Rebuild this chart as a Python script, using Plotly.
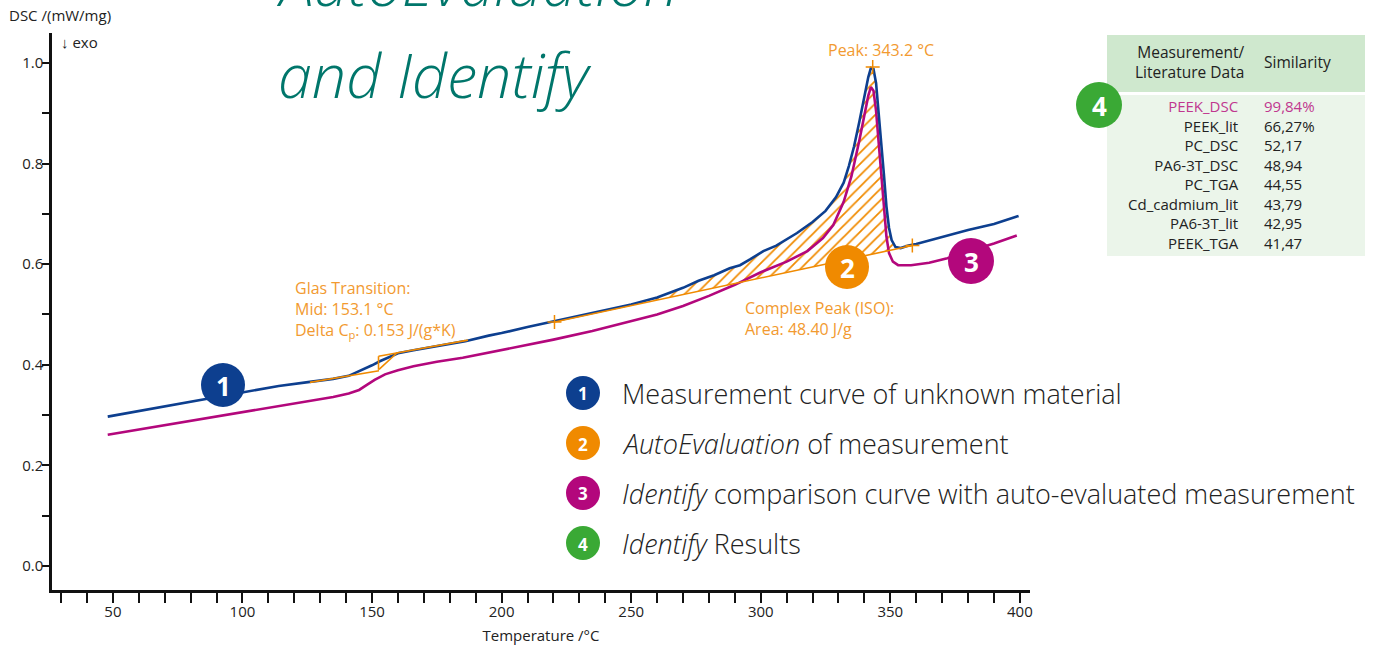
import numpy as np
import plotly.graph_objects as go

# ---------------- data ----------------
meas_T = [48, 60, 80, 100, 114, 126, 135, 141, 146, 150, 153, 157, 160, 166, 172, 180, 186, 195, 200,
          210, 220, 230, 240, 250, 260, 270, 276, 282, 288, 292, 296, 301, 306, 314, 320, 325, 329, 332,
          334, 336, 338, 340, 341.5, 342.5, 343.5, 344.5, 345.5, 346.5, 347.5, 348.5, 349.5, 350.5, 352,
          354, 357, 360, 370, 380, 390, 399.5]
meas_dsc = [0.297, 0.308, 0.326, 0.344, 0.358, 0.366, 0.372, 0.378, 0.389, 0.399, 0.407, 0.417, 0.423,
            0.429, 0.434, 0.441, 0.447, 0.458, 0.463, 0.475, 0.486, 0.497, 0.508, 0.520, 0.534, 0.553,
            0.567, 0.578, 0.592, 0.598, 0.610, 0.626, 0.637, 0.662, 0.684, 0.706, 0.733, 0.762, 0.795,
            0.834, 0.882, 0.935, 0.972, 0.990, 0.988, 0.960, 0.905, 0.850, 0.780, 0.715, 0.672, 0.648,
            0.634, 0.632, 0.637, 0.640, 0.654, 0.668, 0.680, 0.696]

ref_T = [48, 70, 90, 110, 125, 135, 141, 145, 148, 151, 155, 160, 166, 175, 185, 195, 210, 220, 235,
         250, 260, 270, 280, 290, 300, 310, 318, 324, 328, 332, 335, 338, 340, 341.5, 342.5, 343.5,
         344.5, 345.5, 346.5, 347.5, 348.5, 349.5, 351, 353, 358, 365, 372, 380, 390, 398.8]
ref_dsc = [0.261, 0.280, 0.297, 0.314, 0.327, 0.336, 0.343, 0.350, 0.360, 0.370, 0.381, 0.389, 0.397,
           0.406, 0.414, 0.424, 0.439, 0.450, 0.467, 0.486, 0.500, 0.517, 0.537, 0.559, 0.584, 0.605,
           0.626, 0.652, 0.678, 0.724, 0.775, 0.845, 0.900, 0.935, 0.952, 0.945, 0.905, 0.840, 0.770,
           0.705, 0.655, 0.622, 0.605, 0.598, 0.598, 0.603, 0.612, 0.625, 0.641, 0.657]

# glass transition construction (segments)
gt_T = [126, 152.7, None, 152.5, 152.5, None, 152.5, 187, None, 152.7, 159.7]
gt_dsc = [0.365, 0.388, None, 0.390, 0.417, None, 0.417, 0.449, None, 0.391, 0.424]

# complex peak baseline
peak_base_T = [220.4, 358.5]
peak_base_dsc = [0.485, 0.637]
peak_T = [343.2]
peak_dsc = [0.992]

glass_text = ["Glas Transition:", "Mid: 153.1 °C", "Delta C<sub>p</sub>: 0.153 J/(g*K)"]
complex_text = ["Complex Peak (ISO):", "Area: 48.40 J/g"]
peak_text = "Peak: 343.2 °C"

x_ticks = [50, 100, 150, 200, 250, 300, 350, 400]
y_ticks = [0.0, 0.2, 0.4, 0.6, 0.8, 1.0]

table_header = ["Measurement/<br>Literature Data", "Similarity"]
table_names = ["PEEK_DSC", "PEEK_lit", "PC_DSC", "PA6-3T_DSC", "PC_TGA", "Cd_cadmium_lit", "PA6-3T_lit", "PEEK_TGA"]
table_values = ["99,84%", "66,27%", "52,17", "48,94", "44,55", "43,79", "42,95", "41,47"]

legend_items = ["Measurement curve of unknown material",
                "<i>AutoEvaluation</i> of measurement",
                "<i>Identify</i> comparison curve with auto-evaluated measurement",
                "<i>Identify</i> Results"]

# ---------------- styles ----------------
BLUE = "#0d3f8f"
ORANGE = "#f08a00"
ORANGE_TXT = "#f29a30"
MAGENTA = "#b3077c"
GREEN = "#3aa935"
TEAL = "#00766b"
FONT = "Open Sans"
HILITE = "#c0378f"

L, R, T, B = 52, 1030, 33, 590
W, H = 1376, 645


def px(x):
    return (x - L) / (R - L)


def py(y):
    return (B - y) / (B - T)


fig = go.Figure()

# hatched area between baseline and measured curve
mT = np.array(meas_T, dtype=float)
mD = np.array(meas_dsc, dtype=float)
sel = (mT > peak_base_T[0]) & (mT < peak_base_T[1])
poly_T = [peak_base_T[0]] + list(mT[sel]) + [peak_base_T[1], peak_base_T[0]]
poly_D = [float(np.interp(peak_base_T[0], mT, mD))] + list(mD[sel]) + [peak_base_dsc[1], peak_base_dsc[0]]
fig.add_trace(go.Scatter(x=poly_T, y=poly_D, mode="none", fill="toself",
                         fillcolor="rgba(0,0,0,0)",
                         fillpattern=dict(shape="/", fgcolor=ORANGE, bgcolor="rgba(0,0,0,0)",
                                          size=8, solidity=0.22, fgopacity=1),
                         hoverinfo="skip"))

fig.add_trace(go.Scatter(x=ref_T, y=ref_dsc, mode="lines", line=dict(color=MAGENTA, width=2.6)))
fig.add_trace(go.Scatter(x=meas_T, y=meas_dsc, mode="lines", line=dict(color=BLUE, width=2.6)))
fig.add_trace(go.Scatter(x=gt_T, y=gt_dsc, mode="lines", line=dict(color=ORANGE, width=1.6),
                         connectgaps=False))
fig.add_trace(go.Scatter(x=peak_base_T, y=peak_base_dsc, mode="lines+markers",
                         line=dict(color=ORANGE, width=1.6),
                         marker=dict(symbol="cross-thin", size=10, line=dict(color=ORANGE, width=1.5))))
fig.add_trace(go.Scatter(x=peak_T, y=peak_dsc, mode="markers",
                         marker=dict(symbol="cross-thin", size=10, line=dict(color=ORANGE, width=1.5))))

shapes = []
annotations = []

# table backgrounds
shapes.append(dict(type="rect", xref="paper", yref="paper", x0=px(1107), x1=px(1365), y0=py(92), y1=py(35),
                   fillcolor="#cfe8ce", line=dict(width=0), layer="below"))
shapes.append(dict(type="rect", xref="paper", yref="paper", x0=px(1107), x1=px(1365), y0=py(256), y1=py(95),
                   fillcolor="#ebf5ea", line=dict(width=0), layer="below"))


def circle(cx, cy, r, color, label, size):
    shapes.append(dict(type="circle", xref="paper", yref="paper", x0=px(cx - r), x1=px(cx + r),
                       y0=py(cy + r), y1=py(cy - r), fillcolor=color, line=dict(width=0)))
    annotations.append(dict(xref="paper", yref="paper", x=px(cx), y=py(cy + 1), text=label, showarrow=False,
                            xanchor="center", yanchor="middle",
                            font=dict(family=FONT, size=size, color="white", weight="bold")))


circle(223, 385, 22, BLUE, "1", 26)
circle(847, 267, 22, ORANGE, "2", 26)
circle(971, 261, 23, MAGENTA, "3", 26)
circle(1099, 105, 23, GREEN, "4", 26)

leg_colors = [BLUE, ORANGE, MAGENTA, GREEN]
for i, (txt, col) in enumerate(zip(legend_items, leg_colors)):
    cy = 393 + 50 * i
    circle(583, cy, 17, col, str(i + 1), 17)
    annotations.append(dict(xref="paper", yref="paper", x=px(620), y=py(cy), text=txt, showarrow=False,
                            xanchor="left", yanchor="middle",
                            font=dict(family=FONT, size=27, color="#222", weight=300)))

# title
annotations.append(dict(xref="paper", yref="paper", x=px(274), y=py(26), text="<i>AutoEvaluation</i>",
                        showarrow=False, xanchor="left", yanchor="bottom",
                        font=dict(family=FONT, size=61, color=TEAL, weight=300)))
annotations.append(dict(xref="paper", yref="paper", x=px(276), y=py(118), text="<i>and Identify</i>",
                        showarrow=False, xanchor="left", yanchor="bottom",
                        font=dict(family=FONT, size=61, color=TEAL, weight=300)))

# axis title (y) and exo
annotations.append(dict(xref="paper", yref="paper", x=px(7), y=py(15), text="DSC /(mW/mg)",
                        showarrow=False, xanchor="left", yanchor="middle",
                        font=dict(family=FONT, size=15, color="#222")))
annotations.append(dict(xref="paper", yref="paper", x=px(59), y=py(42), text="↓ exo",
                        showarrow=False, xanchor="left", yanchor="middle",
                        font=dict(family=FONT, size=15, color="#222")))

# orange evaluation texts
annotations.append(dict(xref="paper", yref="paper", x=px(293), y=py(309), text="<br>".join(glass_text),
                        showarrow=False, xanchor="left", yanchor="middle", align="left",
                        font=dict(family=FONT, size=16, color=ORANGE_TXT)))
annotations.append(dict(xref="paper", yref="paper", x=px(743), y=py(318), text="<br>".join(complex_text),
                        showarrow=False, xanchor="left", yanchor="middle", align="left",
                        font=dict(family=FONT, size=16, color=ORANGE_TXT)))
annotations.append(dict(xref="paper", yref="paper", x=px(881), y=py(50), text=peak_text,
                        showarrow=False, xanchor="center", yanchor="middle",
                        font=dict(family=FONT, size=16, color=ORANGE_TXT)))

# table text
annotations.append(dict(xref="paper", yref="paper", x=px(1247), y=py(62), text=table_header[0],
                        showarrow=False, xanchor="right", yanchor="middle", align="right",
                        font=dict(family=FONT, size=15.5, color="#222")))
annotations.append(dict(xref="paper", yref="paper", x=px(1262), y=py(62), text=table_header[1],
                        showarrow=False, xanchor="left", yanchor="middle",
                        font=dict(family=FONT, size=15.5, color="#222")))


def colored(items):
    return "<br>".join(f"<span style='color:{HILITE}'>{t}</span>" if i == 0 else t
                       for i, t in enumerate(items))


annotations.append(dict(xref="paper", yref="paper", x=px(1241), y=py(174), text=colored(table_names),
                        showarrow=False, xanchor="right", yanchor="middle", align="right",
                        font=dict(family=FONT, size=15, color="#222")))
annotations.append(dict(xref="paper", yref="paper", x=px(1262), y=py(174), text=colored(table_values),
                        showarrow=False, xanchor="left", yanchor="middle", align="left",
                        font=dict(family=FONT, size=15, color="#222")))

fig.update_layout(
    width=W, height=H,
    margin=dict(l=L, r=W - R, t=T, b=H - B),
    plot_bgcolor="white", paper_bgcolor="white",
    showlegend=False,
    font=dict(family=FONT, size=15, color="#222"),
    shapes=shapes, annotations=annotations,
    xaxis=dict(range=[26.5, 403.9], tickvals=x_ticks, ticks="outside", ticklen=10, tickwidth=1.5,
               tickcolor="#111", showline=True, linewidth=3, linecolor="#111", showgrid=False, zeroline=False,
               minor=dict(dtick=10, tick0=0, ticks="outside", ticklen=10, tickwidth=1.5, tickcolor="#111"),
               title=dict(text="Temperature /°C", font=dict(size=15)),
               tickfont=dict(size=15), automargin=False, ticklabelstandoff=-4),
    yaxis=dict(range=[-0.0477, 1.0596], tickvals=y_ticks, tickformat=".1f", ticks="outside", ticklen=7,
               tickwidth=1.5, tickcolor="#111", showline=True, linewidth=2.5, linecolor="#111",
               showgrid=False, zeroline=False, ticklabelstandoff=-4,
               minor=dict(dtick=0.1, tick0=0, ticks="outside", ticklen=7, tickwidth=1.5, tickcolor="#111"),
               tickfont=dict(size=15), automargin=False),
)

fig.write_html("out.html", post_script="document.body.style.margin='0';",
               config={"displayModeBar": False})
